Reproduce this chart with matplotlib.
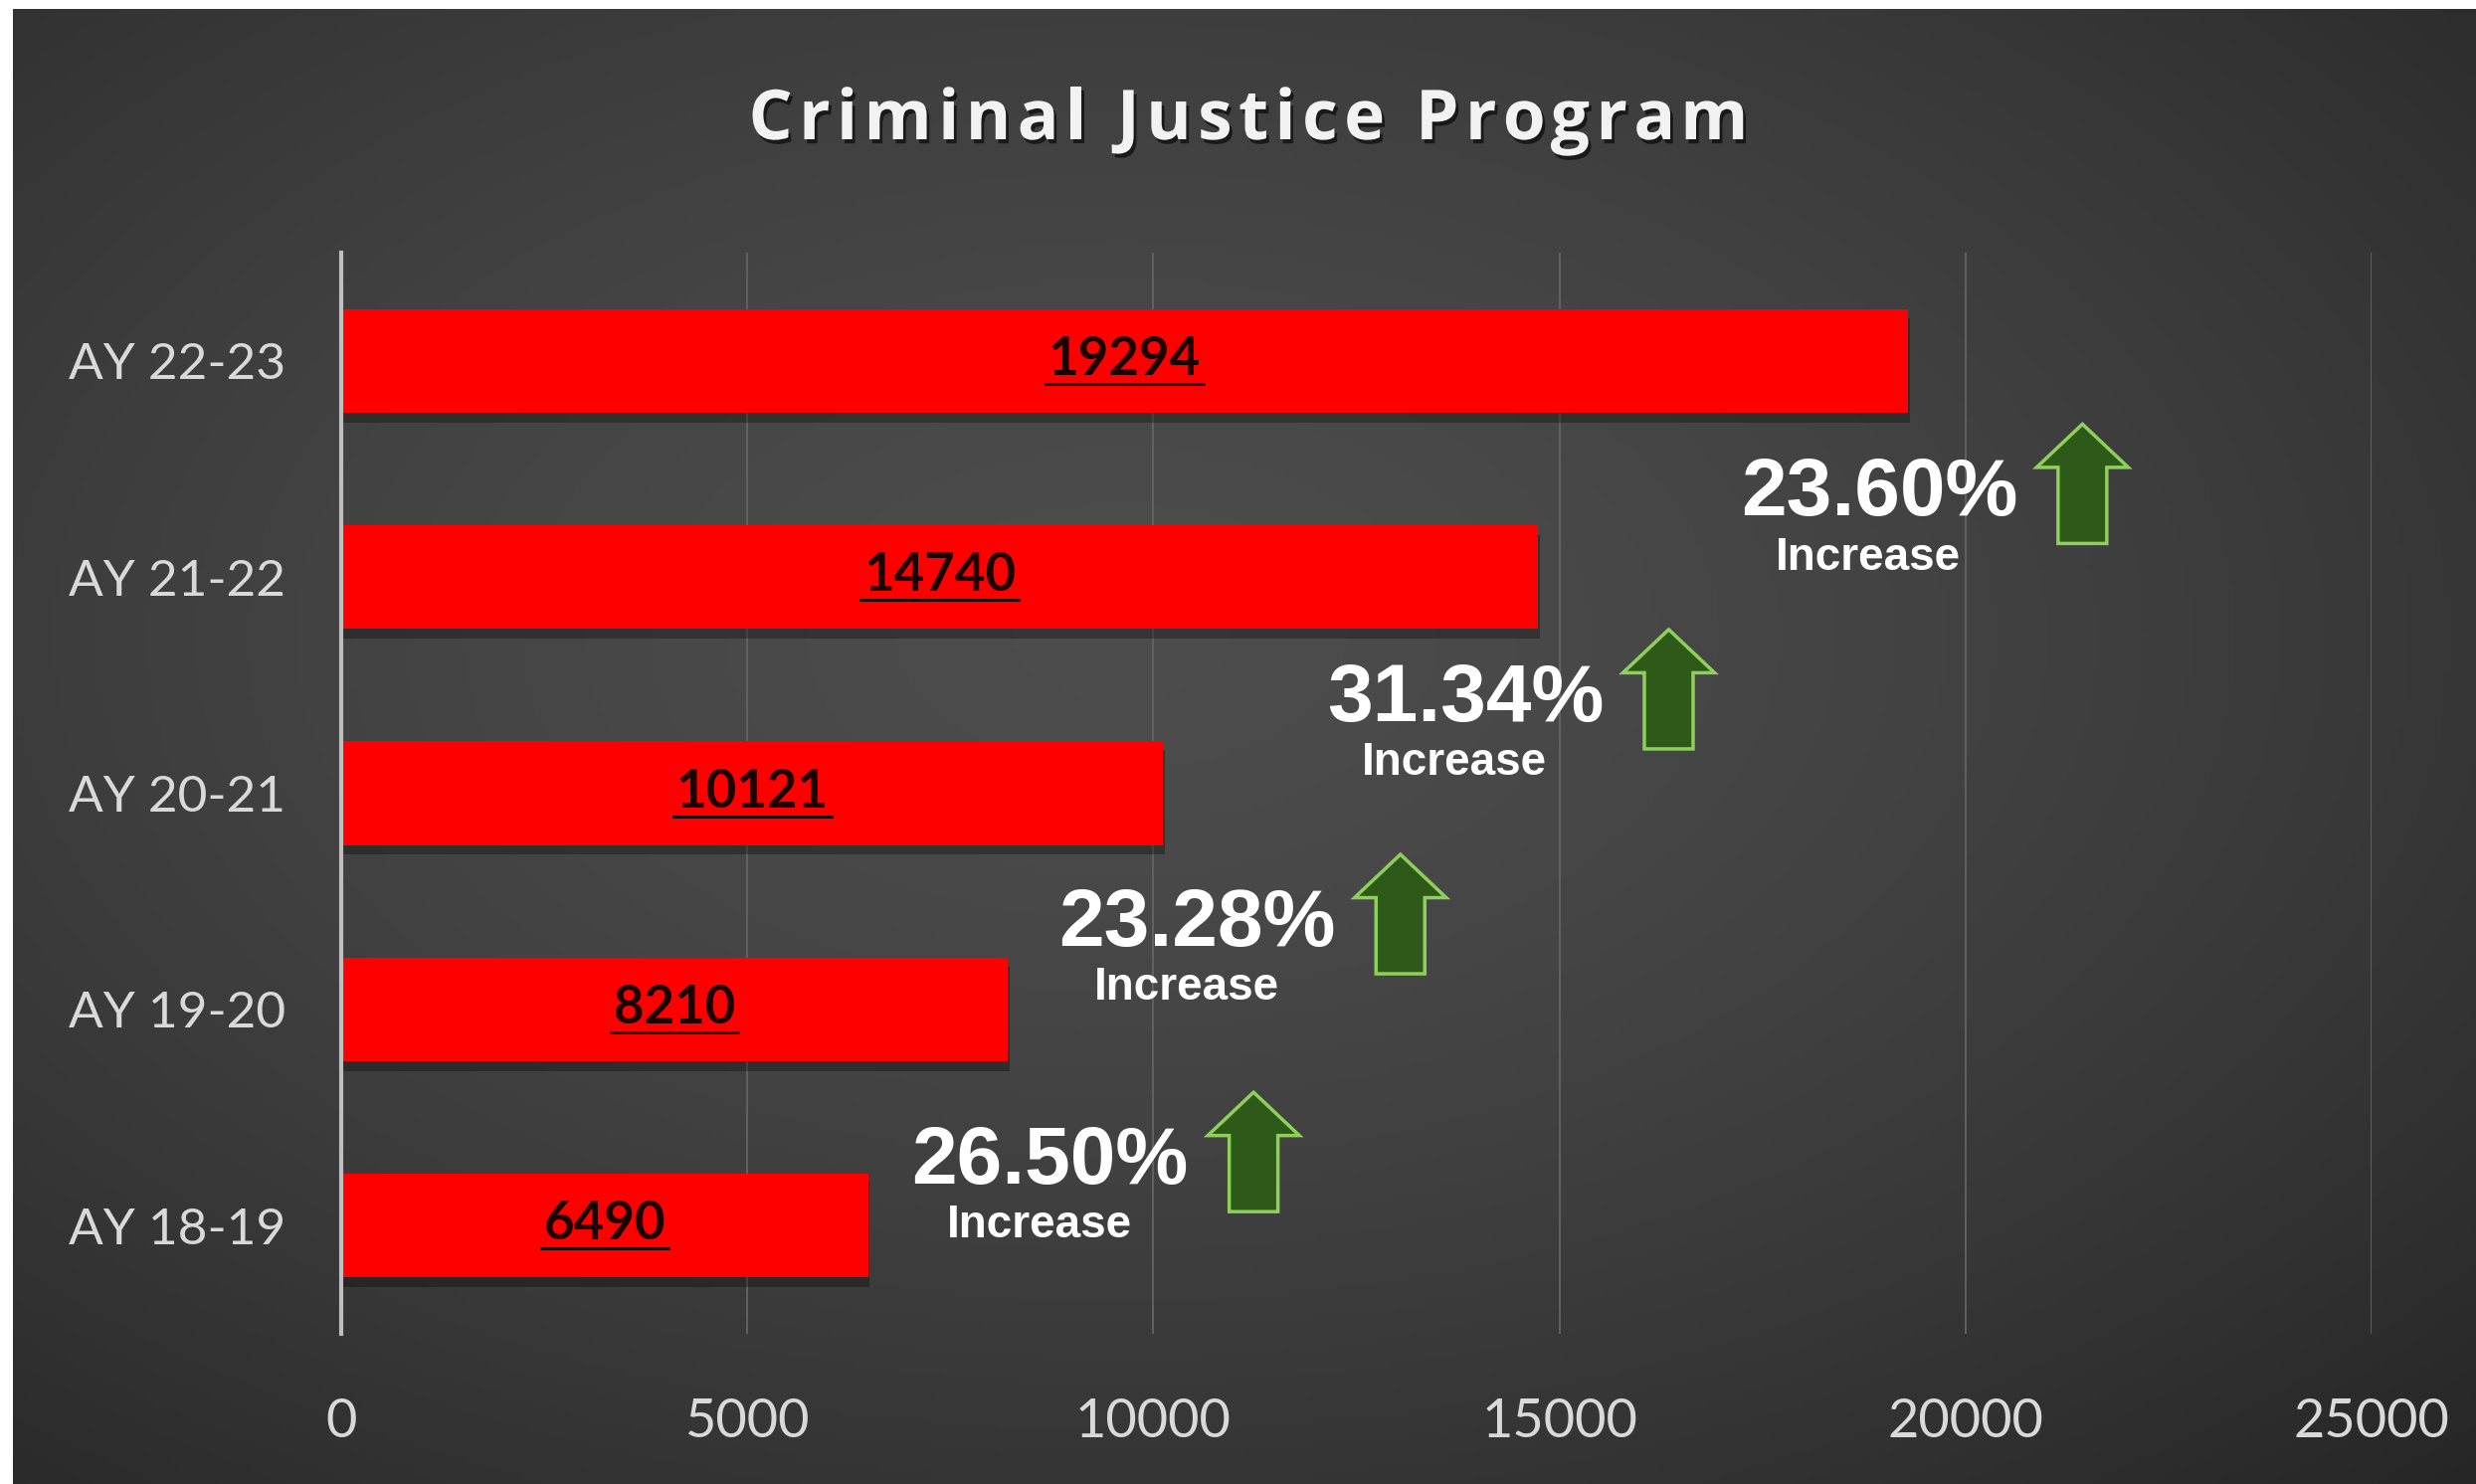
import numpy as np
import matplotlib
matplotlib.use('Agg')
import matplotlib.pyplot as plt
import matplotlib.patheffects as pe
import matplotlib.transforms as mtransforms
from matplotlib.lines import Line2D
from matplotlib.patches import FancyArrow

# data
years = ['AY 18-19', 'AY 19-20', 'AY 20-21', 'AY 21-22', 'AY 22-23']
students = [6490, 8210, 10121, 14740, 19294]
increase = ['26.50%', '23.28%', '31.34%', '23.60%']

# where the "increase" callouts sit (data coords of the % text)
pct_x = [8729, 10537, 13841, 18935]
pct_y = [0.29, 1.39, 2.43, 3.38]

W, H, DPI = 2489, 1492, 100
fig = plt.figure(figsize=(W / DPI, H / DPI), dpi=DPI, facecolor='white')

# dark radial background
bg = fig.add_axes([13 / W, 0, 1 - 13 / W, 1 - 9 / H], zorder=-10)
yy, xx = np.mgrid[-1:1:300j, -1:1:500j]
r = np.sqrt((xx + 0.1) ** 2 + (yy + 0.15) ** 2)
v = np.clip(0.30 - 0.075 * r ** 1.5, 0, 1)
bg.imshow(np.dstack([v, v, v]), aspect='auto', extent=[0, 1, 0, 1])
bg.set_axis_off()

ax = fig.add_axes([343 / W, 1 - 1341 / H, (2384 - 343) / W, (1341 - 254) / H])
ax.patch.set_visible(False)

pos = np.arange(len(years))
ax.barh(pos, students, height=0.48, color='#ff0000', zorder=3,
        path_effects=[pe.SimplePatchShadow(offset=(1, -7), shadow_rgbFace='black', alpha=0.3),
                      pe.Normal()])

ax.set_xlim(0, 25000)
ax.set_ylim(-0.5, 4.5)
ax.set_xticks(range(0, 25001, 5000))
ax.set_yticks(pos)
ax.set_yticklabels(years)
ax.grid(axis='x', color='#646464', lw=1.3, zorder=1)
ax.grid(axis='y', visible=False)
for s in ['top', 'right', 'bottom']:
    ax.spines[s].set_visible(False)
ax.spines['left'].set_color('#bfbfbf')
ax.spines['left'].set_linewidth(3)
ax.spines['left'].set_zorder(4)
ax.tick_params(axis='both', length=0, colors='#d9d9d9')
ax.tick_params(axis='y', pad=40)
ax.tick_params(axis='x', pad=46)
for lab in ax.get_yticklabels():
    lab.set_family('Lato')
    lab.set_fontsize(37)
for lab in ax.get_xticklabels():
    lab.set_family('Lato')
    lab.set_fontsize(39)

renderer = fig.canvas.get_renderer()

# bar value labels (underlined)
lab_fs = 38
shift = -0.36 * lab_fs + 3.5
tr = mtransforms.offset_copy(ax.transData, fig=fig, y=shift, units='points')
for i, val in enumerate(students):
    t = ax.text(val / 2, i, str(val), transform=tr, ha='center', va='baseline',
                fontsize=lab_fs, fontweight='bold', family='Lato', color='#1c0000', zorder=5)
    bb = t.get_window_extent(renderer)
    base = ax.transData.transform((val / 2, i))[1] + shift * DPI / 72
    uy = base - 9
    fig.add_artist(Line2D([bb.x0 - 3, bb.x1 + 3], [uy, uy], transform=mtransforms.IdentityTransform(),
                          color='#1c0000', lw=2.2, zorder=6))

# increase callouts
for txt, x, y in zip(increase, pct_x, pct_y):
    ax.text(x, y, txt, ha='center', va='center', fontsize=59, fontweight='bold',
            family='Liberation Sans', color='white', zorder=6)
    ax.text(x - 130, y - 0.29, 'Increase', ha='center', va='center', fontsize=33,
            fontweight='bold', family='Liberation Sans', color='white', zorder=6)
    ax.add_patch(FancyArrow(x + 2505, y - 0.225, 0, 0.552, width=600, head_width=1128,
                            head_length=0.2, length_includes_head=True,
                            facecolor='#2d5919', edgecolor='#8fd05a', lw=2.5, zorder=6))


# letter-spaced title
def spaced_title(s, xc, ybase, width_px, **kw):
    def w(txt):
        t = fig.text(0, 0, txt, **kw)
        e = t.get_window_extent(renderer).width
        t.remove()
        return e
    bar = w('|')
    adv = [w(s[:i] + '|') - bar for i in range(len(s) + 1)]
    sp = (width_px - adv[-1]) / (len(s) - 1)
    x0 = xc - width_px / 2
    for i, ch in enumerate(s):
        if ch == ' ':
            continue
        fig.text((x0 + adv[i] + i * sp) / W, ybase, ch, ha='left', va='baseline', **kw,
                 path_effects=[pe.SimplePatchShadow(offset=(2, -3), shadow_rgbFace='black', alpha=0.6),
                               pe.Normal()])


spaced_title('Criminal Justice Program', 1255, 1 - 140 / H, 1005,
             fontsize=50, fontweight='bold', family='Open Sans', color='#f2f2f2')

fig.savefig('out.png', dpi=DPI, facecolor=fig.get_facecolor())
